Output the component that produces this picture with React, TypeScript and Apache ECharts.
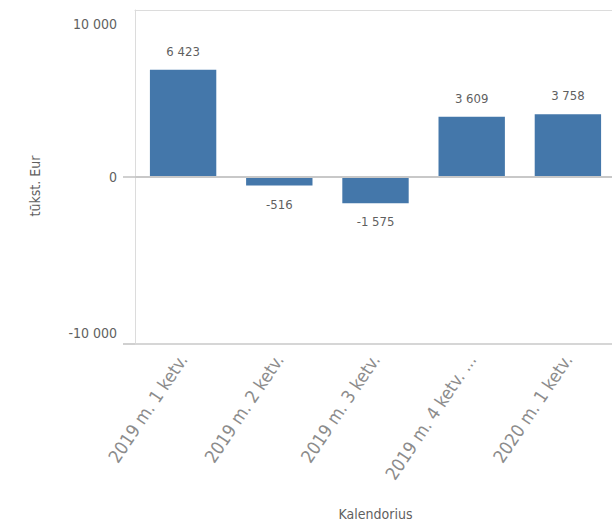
import React, { useEffect, useRef } from "react";
import * as echarts from "echarts";

const categories = [
  "2019 m. 1 ketv.",
  "2019 m. 2 ketv.",
  "2019 m. 3 ketv.",
  "2019 m. 4 ketv. ...",
  "2020 m. 1 ketv.",
];
const values = [6423, -516, -1575, 3609, 3758];
const yTicks = [-10000, 0, 10000];
const xTitle = "Kalendorius";
const yTitle = "tūkst. Eur";

const FONT = "'DejaVu Sans Condensed', 'Liberation Sans Narrow', 'DejaVu Sans', sans-serif";
const TEXT = "#5f5f5f";
const BORDER = "#dcdcdc";

const fmt = (v: number) => {
  const s = Math.abs(v).toString().replace(/\B(?=(\d{3})+(?!\d))/g, " ");
  return (v < 0 ? "-" : "") + s;
};

export default function App() {
  const ref = useRef<HTMLDivElement>(null);
  useEffect(() => {
    if (!ref.current) return;
    const chart = echarts.init(ref.current, undefined, { renderer: "svg" });
    chart.setOption({
      animation: false,
      grid: {
        left: 135,
        width: 481,
        top: 10,
        height: 334,
        containLabel: false,
        outerBoundsMode: "none",
      },
      graphic: [
        {
          type: "text",
          x: 35,
          y: 186,
          rotation: Math.PI / 2,
          style: {
            text: yTitle,
            fontFamily: FONT,
            fontSize: 14,
            fill: TEXT,
            align: "center",
            verticalAlign: "middle",
          },
        },
      ],
      xAxis: [
        {
          type: "category",
          data: categories,
          name: xTitle,
          nameLocation: "middle",
          nameGap: 163,
          nameTextStyle: { fontFamily: FONT, fontSize: 14, color: TEXT },
          axisLine: { show: true, onZero: false, lineStyle: { color: "#d6d6d6", width: 2 } },
          axisTick: { show: false },
          axisLabel: {
            rotate: 56,
            interval: 0,
            margin: 12,
            fontFamily: FONT,
            fontSize: 18,
            color: "#8c8c8c",
          },
        },
        {
          type: "category",
          data: categories,
          position: "top",
          axisLine: { show: true, onZero: false, lineStyle: { color: BORDER, width: 1 } },
          axisTick: { show: false },
          axisLabel: { show: false },
        },
      ],
      yAxis: {
        type: "value",
        min: -10000,
        max: 10000,
        interval: 10000,
        axisLine: { show: true, lineStyle: { color: BORDER, width: 1 } },
        axisTick: {
          show: true,
          customValues: [yTicks[0], yTicks[1]],
          length: 12,
          lineStyle: { color: "#d0d0d0", width: 2 },
        },
        splitLine: { show: false },
        axisLabel: {
          margin: 18,
          fontFamily: FONT,
          fontSize: 14,
          color: TEXT,
          formatter: (v: number) =>
            v === yTicks[2] ? `{max|${fmt(v)}}` : v === yTicks[0] ? `{min|${fmt(v)}}` : fmt(v),
          rich: {
            max: { padding: [28, 0, 0, 0], fontFamily: FONT, fontSize: 14, color: TEXT },
            min: { padding: [0, 0, 22, 0], fontFamily: FONT, fontSize: 14, color: TEXT },
          },
        },
      },
      series: [
        {
          type: "bar",
          barWidth: "69%",
          itemStyle: { color: "#4477aa" },
          data: values.map((v) => ({
            value: v,
            label: { position: v >= 0 ? "top" : "bottom" },
          })),
          label: {
            show: true,
            distance: 12,
            fontFamily: FONT,
            fontSize: 13,
            color: TEXT,
            formatter: (p: any) => fmt(p.value),
          },
          markLine: {
            silent: true,
            symbol: "none",
            label: { show: false },
            lineStyle: { color: "#c8c8c8", width: 2, type: "solid" },
            data: [{ yAxis: 0 }],
          },
        },
      ],
    });
    return () => chart.dispose();
  }, []);
  return <div ref={ref} style={{ width: 612, height: 526, position: "absolute", left: 0, top: 0 }} />;
}
